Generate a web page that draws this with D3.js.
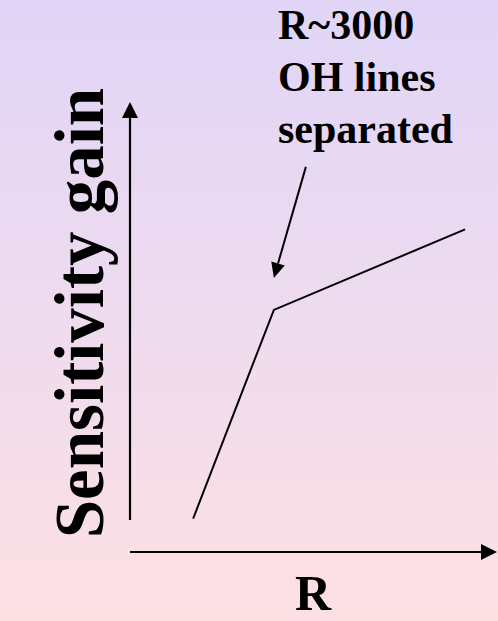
<!DOCTYPE html>
<html>
<head>
<meta charset="utf-8">
<script src="https://cdn.jsdelivr.net/npm/d3@7"></script>
<style>
html,body{margin:0;padding:0;overflow:hidden;}
svg{display:block;}
text{font-family:"Liberation Serif","Times New Roman",serif;font-weight:bold;}
</style>
</head>
<body>
<script>
// Data (arbitrary units)
const resolution = [1.72, 3.92, 9.13];
const sensitivityGain = [0.74, 5.38, 7.17];
const annotationLines = ["R~3000", "OH lines", "separated"];
const xLabel = "R";
const yLabel = "Sensitivity gain";

const W = 498, H = 621;
const svg = d3.select("body").append("svg").attr("width", W).attr("height", H);

const defs = svg.append("defs");
const grad = defs.append("linearGradient").attr("id", "bg")
  .attr("x1", 0).attr("y1", 0).attr("x2", 0).attr("y2", 1);
grad.append("stop").attr("offset", "0%").attr("stop-color", "#e0d5f7");
grad.append("stop").attr("offset", "50%").attr("stop-color", "#eedbef");
grad.append("stop").attr("offset", "100%").attr("stop-color", "#fde0e3");
svg.append("rect").attr("width", W).attr("height", H).attr("fill", "url(#bg)");

const x = d3.scaleLinear().domain([0, 10]).range([130, 497]);
const y = d3.scaleLinear().domain([0, 10]).range([552, 102]);

// Vertical axis with arrow
const vBottom = y(0.71);
svg.append("line").attr("x1", x(0)).attr("x2", x(0))
  .attr("y1", vBottom).attr("y2", y(10) + 12)
  .attr("stroke", "#000").attr("stroke-width", 2.2);
svg.append("path")
  .attr("d", `M${x(0)},${y(10)} L${x(0) - 8},${y(10) + 16} L${x(0) + 8},${y(10) + 16} Z`)
  .attr("fill", "#000");

// Horizontal axis with arrow
svg.append("line").attr("x1", x(0)).attr("x2", x(10) - 12)
  .attr("y1", y(0)).attr("y2", y(0))
  .attr("stroke", "#000").attr("stroke-width", 2.2);
svg.append("path")
  .attr("d", `M${x(10)},${y(0)} L${x(10) - 16},${y(0) - 8} L${x(10) - 16},${y(0) + 8} Z`)
  .attr("fill", "#000");

// Data line
const pts = resolution.map((r, i) => [r, sensitivityGain[i]]);
svg.append("path").datum(pts)
  .attr("d", d3.line().x(d => x(d[0])).y(d => y(d[1])))
  .attr("fill", "none").attr("stroke", "#000").attr("stroke-width", 2)
  .attr("stroke-linejoin", "miter");

// Annotation arrow pointing at the knee
const kx = x(resolution[1]), ky = y(sensitivityGain[1]);
const tip = [kx, ky - 32];
const start = [kx + 32, ky - 143];
const ang = Math.atan2(tip[1] - start[1], tip[0] - start[0]);
const hl = 15, hw = 7;
const base = [tip[0] - hl * Math.cos(ang), tip[1] - hl * Math.sin(ang)];
svg.append("line").attr("x1", start[0]).attr("y1", start[1])
  .attr("x2", base[0]).attr("y2", base[1])
  .attr("stroke", "#000").attr("stroke-width", 2);
svg.append("path")
  .attr("d", `M${tip[0]},${tip[1]} L${base[0] + hw * Math.sin(ang)},${base[1] - hw * Math.cos(ang)} L${base[0] - hw * Math.sin(ang)},${base[1] + hw * Math.cos(ang)} Z`)
  .attr("fill", "#000");

// Annotation text
const ann = svg.append("text").attr("font-size", 42).attr("fill", "#000");
annotationLines.forEach((t, i) => {
  ann.append("tspan").attr("x", 278).attr("y", 39 + i * 52).text(t);
});

// Axis labels
svg.append("text").attr("font-size", 69).attr("fill", "#000")
  .attr("text-anchor", "middle")
  .attr("transform", "translate(103,313) rotate(-90)")
  .text(yLabel);
svg.append("text").attr("font-size", 50).attr("fill", "#000")
  .attr("text-anchor", "middle")
  .attr("x", 313).attr("y", 610)
  .text(xLabel);
</script>
</body>
</html>
